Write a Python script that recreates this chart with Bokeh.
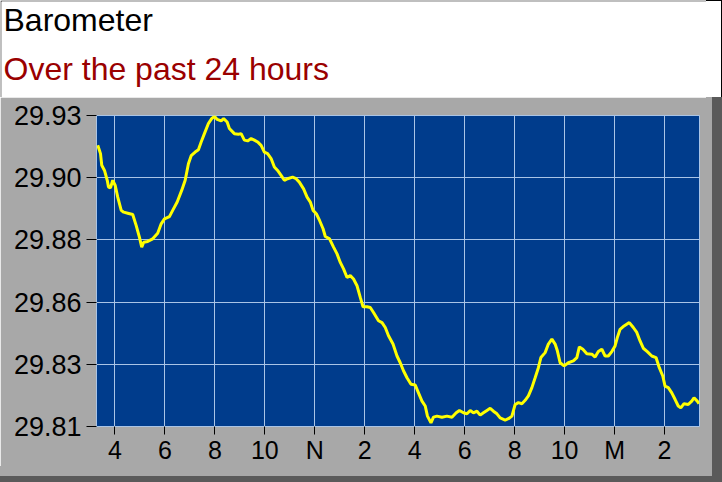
from bokeh.plotting import figure
from bokeh.layouts import column
from bokeh.models import FixedTicker
from bokeh.core.properties import value
from bokeh.embed import file_html
from bokeh.resources import INLINE

title_text = "Barometer"
subtitle_text = "Over the past 24 hours"

# hours since midnight of the first day (24 = midnight "M")
hours = [3.31, 3.42, 3.47, 3.58, 3.69, 3.74, 3.82, 3.91, 4.01, 4.11, 4.25, 4.35, 4.51, 4.71,
         4.85, 4.98, 5.07, 5.15, 5.31, 5.51, 5.71, 5.85, 5.98, 6.18, 6.31, 6.49, 6.67, 6.81,
         6.94, 7.05, 7.21, 7.34, 7.45, 7.58, 7.74, 7.87, 7.98, 8.09, 8.25, 8.35, 8.49, 8.58,
         8.78, 8.94, 9.05, 9.18, 9.31, 9.45, 9.58, 9.71, 9.85, 9.98, 10.11, 10.25, 10.38,
         10.51, 10.65, 10.78, 10.91, 11.11, 11.25, 11.38, 11.55, 11.69, 11.82, 11.93, 12.06,
         12.19, 12.33, 12.42, 12.59, 12.75, 12.89, 13.02, 13.15, 13.29, 13.42, 13.55, 13.69,
         13.82, 13.93, 14.09, 14.22, 14.35, 14.55, 14.69, 14.82, 14.95, 15.13, 15.29, 15.42,
         15.55, 15.69, 15.85, 16.02, 16.15, 16.29, 16.42, 16.51, 16.65, 16.75, 16.89, 17.09,
         17.29, 17.49, 17.66, 17.79, 17.95, 18.09, 18.22, 18.35, 18.49, 18.62, 18.75, 18.89,
         19.02, 19.15, 19.29, 19.42, 19.62, 19.75, 19.89, 20.02, 20.15, 20.29, 20.42, 20.55,
         20.69, 20.82, 20.95, 21.05, 21.22, 21.35, 21.49, 21.62, 21.71, 21.82, 21.98, 22.15,
         22.35, 22.49, 22.59, 22.73, 22.89, 23.09, 23.22, 23.35, 23.49, 23.62, 23.75, 23.89,
         24.02, 24.11, 24.22, 24.38, 24.59, 24.75, 24.89, 25.02, 25.15, 25.31, 25.49, 25.66,
         25.79, 25.93, 26.02, 26.15, 26.29, 26.42, 26.55, 26.65, 26.78, 26.95, 27.09, 27.18,
         27.31, 27.38]

pressure = [29.9160, 29.9128, 29.9083, 29.9063, 29.9025, 29.8999, 29.8996, 29.9025, 29.9005,
            29.8960, 29.8909, 29.8902, 29.8898, 29.8893, 29.8850, 29.8805, 29.8767, 29.8786,
            29.8789, 29.8799, 29.8821, 29.8857, 29.8876, 29.8885, 29.8909, 29.8941, 29.8986,
            29.9025, 29.9089, 29.9120, 29.9134, 29.9143, 29.9173, 29.9205, 29.9244, 29.9263,
            29.9272, 29.9260, 29.9254, 29.9263, 29.9250, 29.9225, 29.9205, 29.9203, 29.9205,
            29.9180, 29.9177, 29.9186, 29.9180, 29.9173, 29.9160, 29.9134, 29.9128, 29.9109,
            29.9076, 29.9063, 29.9044, 29.9025, 29.9031, 29.9037, 29.9031, 29.9018, 29.8992,
            29.8960, 29.8941, 29.8909, 29.8896, 29.8870, 29.8838, 29.8808, 29.8799, 29.8767,
            29.8741, 29.8708, 29.8683, 29.8650, 29.8657, 29.8644, 29.8618, 29.8573, 29.8537,
            29.8537, 29.8534, 29.8515, 29.8483, 29.8476, 29.8457, 29.8425, 29.8393, 29.8347,
            29.8321, 29.8290, 29.8263, 29.8238, 29.8235, 29.8205, 29.8173, 29.8154, 29.8115,
            29.8089, 29.8111, 29.8115, 29.8111, 29.8115, 29.8111, 29.8128, 29.8137, 29.8128,
            29.8124, 29.8137, 29.8128, 29.8134, 29.8119, 29.8128, 29.8137, 29.8145, 29.8134,
            29.8124, 29.8108, 29.8100, 29.8105, 29.8115, 29.8160, 29.8167, 29.8163, 29.8176,
            29.8193, 29.8225, 29.8263, 29.8302, 29.8341, 29.8360, 29.8393, 29.8412, 29.8393,
            29.8367, 29.8321, 29.8309, 29.8321, 29.8328, 29.8341, 29.8382, 29.8373, 29.8356,
            29.8354, 29.8343, 29.8364, 29.8373, 29.8347, 29.8347, 29.8364, 29.8386, 29.8418,
            29.8450, 29.8463, 29.8476, 29.8457, 29.8438, 29.8405, 29.8377, 29.8364, 29.8347,
            29.8341, 29.8302, 29.8270, 29.8231, 29.8225, 29.8205, 29.8180, 29.8154, 29.8147,
            29.8163, 29.8160, 29.8173, 29.8186, 29.8173, 29.8163]

x_tick_values = [4, 6, 8, 10, 12, 14, 16, 18, 20, 22, 24, 26]
x_tick_labels = ["4", "6", "8", "10", "N", "2", "4", "6", "8", "10", "M", "2"]
y_tick_values = [29.8075, 29.8315, 29.8555, 29.8795, 29.9035, 29.9275]
y_tick_labels = ["29.81", "29.83", "29.86", "29.88", "29.90", "29.93"]
x_span = (3.26, 27.4)
y_span = (29.8075, 29.9275)

FONT = "Liberation Sans"
W = 706
HDR_H = 97
MAIN_H = 369
GRAY = "#A8A8A8"

# ---- header ----
hdr = figure(width=W, height=HDR_H, x_range=(0, W - 1), y_range=(0, HDR_H - 1),
             output_backend="svg", toolbar_location=None,
             min_border_left=1, min_border_top=1, min_border_right=0, min_border_bottom=0,
             x_axis_location=None, y_axis_location=None)
hdr.frame_align = False
hdr.grid.visible = False
hdr.background_fill_color = "white"
hdr.border_fill_color = "black"
hdr.outline_line_color = None
hdr.text(x=[2], y=[78], text=[title_text], text_font=value(FONT), text_font_size="32px",
         text_color="black", text_baseline="alphabetic")
hdr.text(x=[2], y=[29], text=[subtitle_text], text_font=value(FONT), text_font_size="32px",
         text_color="#9A0000", text_baseline="alphabetic")
hdr.styles = {"box-shadow": "15px 1px 0 0 white, 16px 0 0 0 black"}

# ---- main chart ----
p = figure(width=W, height=MAIN_H, x_range=x_span, y_range=y_span,
           output_backend="svg", toolbar_location=None,
           min_border_left=96, min_border_right=7, min_border_top=18, min_border_bottom=40)
p.frame_align = False
p.background_fill_color = "#003C8C"
p.border_fill_color = GRAY
p.outline_line_color = "#A9C4E6"
p.outline_line_width = 1

p.line(hours, pressure, line_color="#FFFF00", line_width=3)

p.xaxis.ticker = FixedTicker(ticks=x_tick_values)
p.xaxis.major_label_overrides = {v: l for v, l in zip(x_tick_values, x_tick_labels)}
p.yaxis.ticker = FixedTicker(ticks=y_tick_values)
p.yaxis.major_label_overrides = {v: l for v, l in zip(y_tick_values, y_tick_labels)}

for ax in (p.xaxis[0], p.yaxis[0]):
    ax.axis_line_color = None
    ax.major_tick_line_color = "black"
    ax.major_tick_in = 0
    ax.minor_tick_line_color = None
    ax.major_label_text_font = FONT
    ax.major_label_text_color = "black"
p.xaxis.major_tick_out = 8
p.xaxis.major_label_standoff = 1
p.xaxis.major_label_text_font_size = "25px"
p.yaxis.major_tick_out = 10
p.yaxis.major_label_standoff = 5
p.yaxis.major_label_text_font_size = "27px"

p.xgrid.grid_line_color = "#A9C4E6"
p.ygrid.grid_line_color = "#A9C4E6"
p.xgrid.ticker = FixedTicker(ticks=x_tick_values)
p.ygrid.ticker = FixedTicker(ticks=y_tick_values)

p.styles = {"box-shadow": ("6px 0 0 0 %s, 0 10px 0 0 %s, 6px 10px 0 0 %s, "
                           "16px 0 0 0 #5A5A5A, 0 16px 0 0 #5A5A5A, 16px 16px 0 0 #5A5A5A")
            % (GRAY, GRAY, GRAY)}

layout = column(hdr, p, spacing=0)
open("out.html", "w").write(file_html(layout, INLINE))
